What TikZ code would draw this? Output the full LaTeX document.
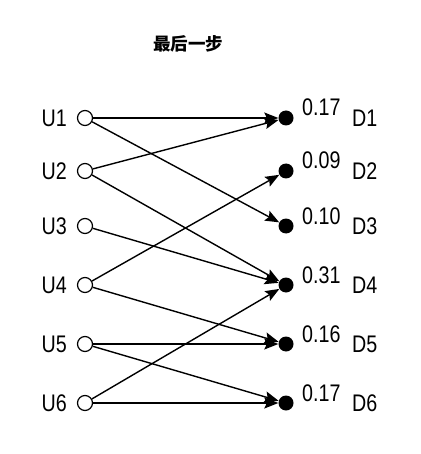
\documentclass[tikz,border=0pt]{standalone}
\usepackage{fontspec}
\setmainfont{Liberation Sans}[FakeStretch=0.82]
\newfontfamily\cjk{Noto Sans CJK SC}
\usetikzlibrary{arrows.meta}
\begin{document}
\begin{tikzpicture}[x=1pt,y=-1pt,
  unode/.style={circle,draw,line width=1.2pt,fill=white,minimum size=15pt,inner sep=0pt},
  dnode/.style={circle,fill=black,minimum size=15pt,inner sep=0pt},
  lab/.style={font=\fontsize{24}{24}\selectfont,inner sep=0pt},
  edge/.style={line width=1.4pt,-{Stealth[length=14pt,width=11pt,inset=2.5pt]}}]
\useasboundingbox (0,0) rectangle (420,454);
\node[font=\fontsize{17.5}{17.5}\selectfont\cjk\bfseries] (title) at (188,44) {最后一步};
\foreach \i/\y/\v in {1/118/0.17,2/171/0.09,3/226/0.10,4/285/0.31,5/344/0.16,6/403/0.17}{
  \node[unode] (U\i) at (85,\y) {};
  \node[lab,anchor=east] (LU\i) at (67,\y) {U\i};
  \node[dnode] (D\i) at (286,\y) {};
  \node[lab,anchor=west] (LD\i) at (352,\y) {D\i};
  \node[lab,anchor=base west] (V\i) at (302,\y-2) {\v};
}
\foreach \a/\b in {1/1,1/3,2/1,2/4,3/4,4/2,4/5,5/5,5/6,6/4,6/6}{
  \draw[edge] (U\a) -- (D\b);
}
\end{tikzpicture}
\end{document}
